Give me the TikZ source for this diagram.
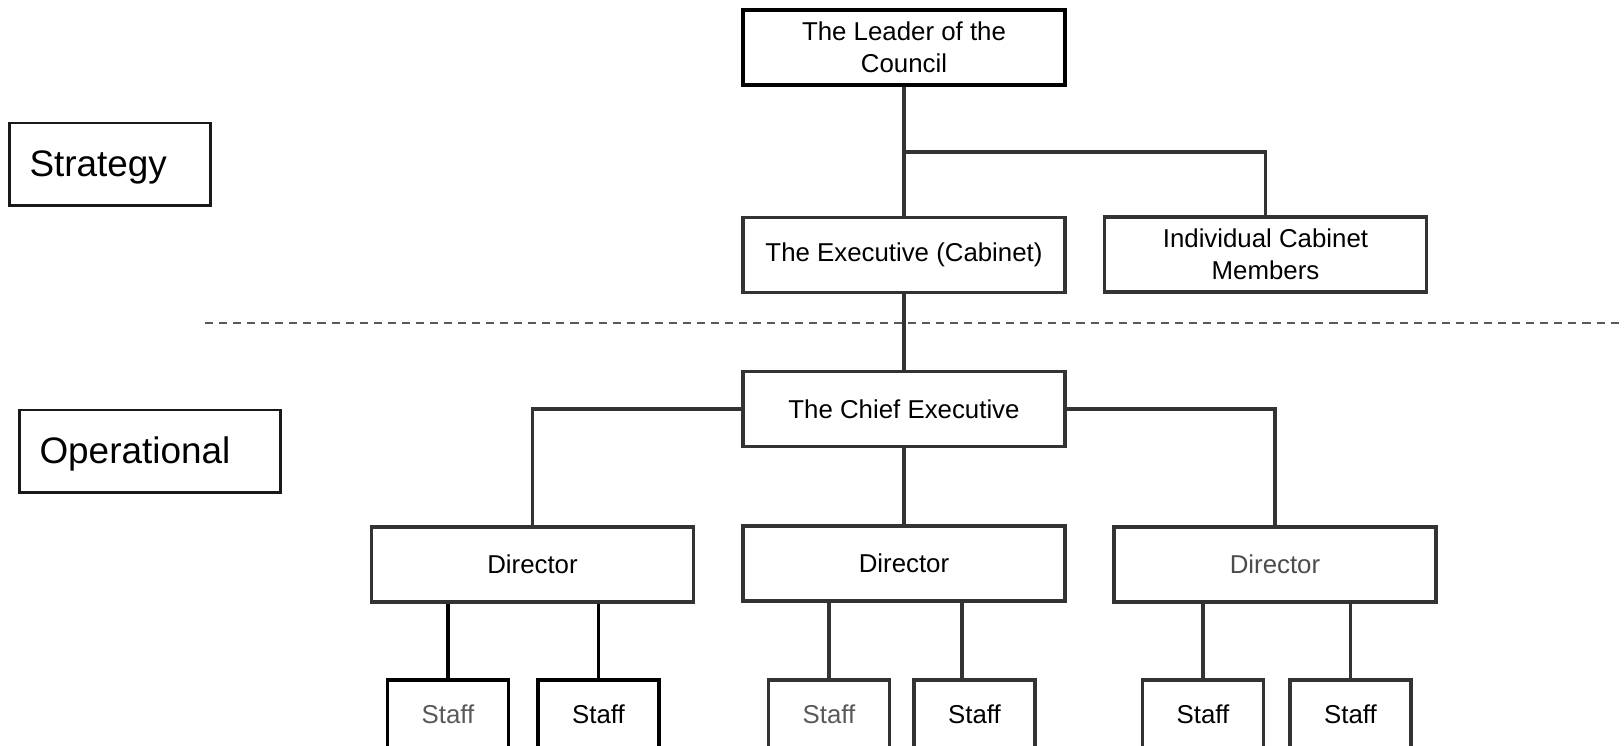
\documentclass[tikz,border=0pt]{standalone}
\usepackage{fontspec}
\setmainfont{Liberation Sans}
\usepackage{tikz}

\tikzset{
  box/.style={draw=black!80, line width=1.9pt, minimum width=6.44cm, minimum height=1.5cm, align=center, font=\fontsize{14.7}{18}\selectfont},
  staffbox/.style={box, minimum width=2.42cm, minimum height=1.36cm},
  tier/.style={draw=black!90, line width=1.7pt, align=left, inner xsep=0.4cm, text height=18.5pt, text depth=4.5pt, minimum height=1.66cm, font=\fontsize{21}{25}\selectfont},
  link/.style={draw=black!80, line width=2pt},
  cut/.style={draw=black!65, line width=1.3pt, dash pattern=on 4.6pt off 3.4pt}
}

\begin{document}
\begin{tikzpicture}[x=0.02cm,y=-0.02cm]
\useasboundingbox (0,0) rectangle (1624,746);
\node[tier, text width=3.22cm] (strategy) at (110,164.5) {Strategy};
\node[tier, text width=4.42cm] (operational) at (150,451.5) {Operational};
\coordinate (cut west) at (205,323);
\coordinate (cut east) at (1624,323);
\draw[cut] (cut west) -- (cut east);
\node[box, draw=black, line width=2.4pt] (leader) at (904,47.5) {The Leader of the\\Council};
\node[box] (exec) at (904,255) {The Executive (Cabinet)};
\node[box] (indiv) at (1265.5,254.5) {Individual Cabinet\\Members};
\node[box] (chief) at (904,409) {The Chief Executive};
\node[box] (d1) at (532.5,564.5) {Director};
\node[box] (d2) at (904,563.5) {Director};
\node[box, text=black!70] (d3) at (1275,564.5) {Director};
\coordinate (fork) at (904,152);
\draw[link] (leader) -- (exec);
\draw[link] (fork) -| (indiv);
\draw[link] (exec) -- (chief);
\draw[link] (chief) -| (d1);
\draw[link] (chief) -- (d2);
\draw[link] (chief) -| (d3);
\foreach \n/\x/\o/\d/\c/\k in {1/448/0/d1/black!65/black, 2/598.5/0/d1/black/black, 3/829/0/d2/black!65/black!80, 4/974.5/-0.25/d2/black/black!80, 5/1203/0/d3/black/black!80, 6/1350.5/0/d3/black/black!80}
{
  \node[staffbox, text=\c, draw=\k] (s\n) at (\x,714) {Staff};
  \draw[link, draw=\k] ([xshift=\o cm]s\n.north) -- ([xshift=\o cm]s\n.north |- \d.south);
}
\end{tikzpicture}
\end{document}
